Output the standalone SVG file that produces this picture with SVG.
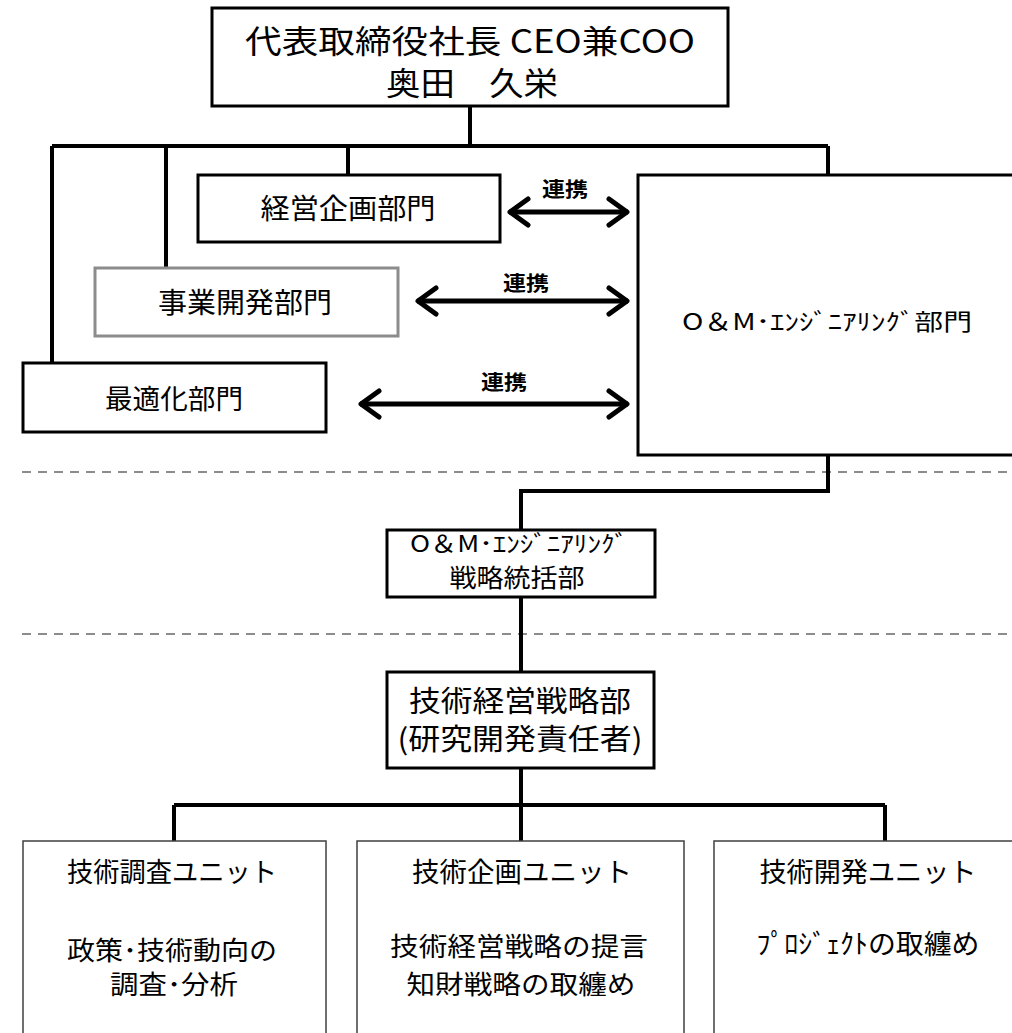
<svg xmlns="http://www.w3.org/2000/svg" width="1012" height="1033" viewBox="0 0 1012 1033">
<style>
text{font-family:"Noto Sans CJK JP","Noto Sans",sans-serif;fill:#000;text-anchor:middle}
.box{fill:#fff;stroke:#000;stroke-width:3}
.gbox{fill:#fff;stroke:#8c8c8c;stroke-width:3}
.ubox{fill:#fff;stroke:#404040;stroke-width:1.5}
.conn{fill:none;stroke:#000;stroke-width:4}
.arr{fill:none;stroke:#000;stroke-width:5;marker-start:url(#chev);marker-end:url(#chev)}
.dash{stroke:#8c8c8c;stroke-width:2;stroke-dasharray:9 7}
.lbl{font-weight:bold;font-size:20px}
</style>
<defs>
<marker id="chev" markerUnits="userSpaceOnUse" markerWidth="40" markerHeight="40" viewBox="-25 -20 40 40" refX="0" refY="0" orient="auto-start-reverse" overflow="visible">
<path d="M-19,-13 L-1,0 L-19,13" fill="none" stroke="#000" stroke-width="5" stroke-linecap="round" stroke-linejoin="round"/>
</marker>
</defs>
<rect width="1012" height="1033" fill="#fff"/>
<g id="separators">
<line class="dash" x1="22" y1="472" x2="1012" y2="472"/>
<line class="dash" x1="22" y1="634" x2="1012" y2="634"/>
</g>
<g id="connectors">
<path class="conn" d="M470,106 V146 M52,146 H828 M52,146 V363 M166,146 V268 M348,146 V175 M828,146 V175"/>
<path class="conn" d="M828,455 V491 H521 V530"/>
<path class="conn" d="M521,597 V672"/>
<path class="conn" d="M521,768 V805 M174,805 H885 M174,805 V841 M521,805 V841 M885,805 V841"/>
<line class="arr" x1="509" y1="212" x2="628" y2="212"/>
<line class="arr" x1="417" y1="301" x2="628" y2="301"/>
<line class="arr" x1="360" y1="404" x2="628" y2="404"/>
<text class="lbl" x="565" y="197" textLength="46" lengthAdjust="spacingAndGlyphs">連携</text>
<text class="lbl" x="526" y="291" textLength="46" lengthAdjust="spacingAndGlyphs">連携</text>
<text class="lbl" x="504" y="390" textLength="46" lengthAdjust="spacingAndGlyphs">連携</text>
</g>
<g id="ceo">
<rect class="box" x="212" y="8" width="516" height="98"/>
<text x="470" y="53" font-size="32" textLength="450" lengthAdjust="spacingAndGlyphs">代表取締役社長 CEO兼COO</text>
<text x="472" y="95" font-size="32" textLength="172" lengthAdjust="spacingAndGlyphs">奥田　久栄</text>
</g>
<g id="keiei-kikaku">
<rect class="box" x="198" y="175" width="302" height="67"/>
<text x="348" y="219" font-size="28" textLength="175" lengthAdjust="spacingAndGlyphs">経営企画部門</text>
</g>
<g id="jigyo-kaihatsu">
<rect class="gbox" x="95" y="268" width="303" height="68"/>
<text x="245" y="313" font-size="28" textLength="174" lengthAdjust="spacingAndGlyphs">事業開発部門</text>
</g>
<g id="saitekika">
<rect class="box" x="23" y="363" width="303" height="69"/>
<text x="174" y="409" font-size="27" textLength="138" lengthAdjust="spacingAndGlyphs">最適化部門</text>
</g>
<g id="om-engineering">
<rect class="box" x="638" y="175" width="400" height="280"/>
<text x="827" y="330" font-size="23" textLength="290" lengthAdjust="spacingAndGlyphs">O＆M･ｴﾝｼﾞﾆｱﾘﾝｸﾞ部門</text>
</g>
<g id="om-strategy">
<rect class="box" x="387" y="530" width="268" height="67"/>
<text x="519" y="552" font-size="23" textLength="218" lengthAdjust="spacingAndGlyphs">O＆M･ｴﾝｼﾞﾆｱﾘﾝｸﾞ</text>
<text x="517" y="587" font-size="25" textLength="135" lengthAdjust="spacingAndGlyphs">戦略統括部</text>
</g>
<g id="gijutsu-keiei">
<rect class="box" x="387" y="672" width="267" height="96"/>
<text x="520" y="712" font-size="29" textLength="222" lengthAdjust="spacingAndGlyphs">技術経営戦略部</text>
<text x="520" y="750" font-size="29" textLength="245" lengthAdjust="spacingAndGlyphs">(研究開発責任者)</text>
</g>
<g id="unit-chosa">
<rect class="ubox" x="23" y="841" width="303" height="220"/>
<text x="172" y="882" font-size="27" textLength="210" lengthAdjust="spacingAndGlyphs">技術調査ユニット</text>
<text x="172" y="960" font-size="26" textLength="210" lengthAdjust="spacingAndGlyphs">政策･技術動向の</text>
<text x="174" y="994" font-size="26" textLength="128" lengthAdjust="spacingAndGlyphs">調査･分析</text>
</g>
<g id="unit-kikaku">
<rect class="ubox" x="357" y="841" width="327" height="220"/>
<text x="522" y="882" font-size="27" textLength="220" lengthAdjust="spacingAndGlyphs">技術企画ユニット</text>
<text x="519" y="956" font-size="26" textLength="258" lengthAdjust="spacingAndGlyphs">技術経営戦略の提言</text>
<text x="521" y="994" font-size="26" textLength="229" lengthAdjust="spacingAndGlyphs">知財戦略の取纏め</text>
</g>
<g id="unit-kaihatsu">
<rect class="ubox" x="714" y="841" width="330" height="220"/>
<text x="868" y="882" font-size="27" textLength="217" lengthAdjust="spacingAndGlyphs">技術開発ユニット</text>
<text x="868" y="954" font-size="27" textLength="223" lengthAdjust="spacingAndGlyphs">ﾌﾟﾛｼﾞｪｸﾄの取纏め</text>
</g>
</svg>
